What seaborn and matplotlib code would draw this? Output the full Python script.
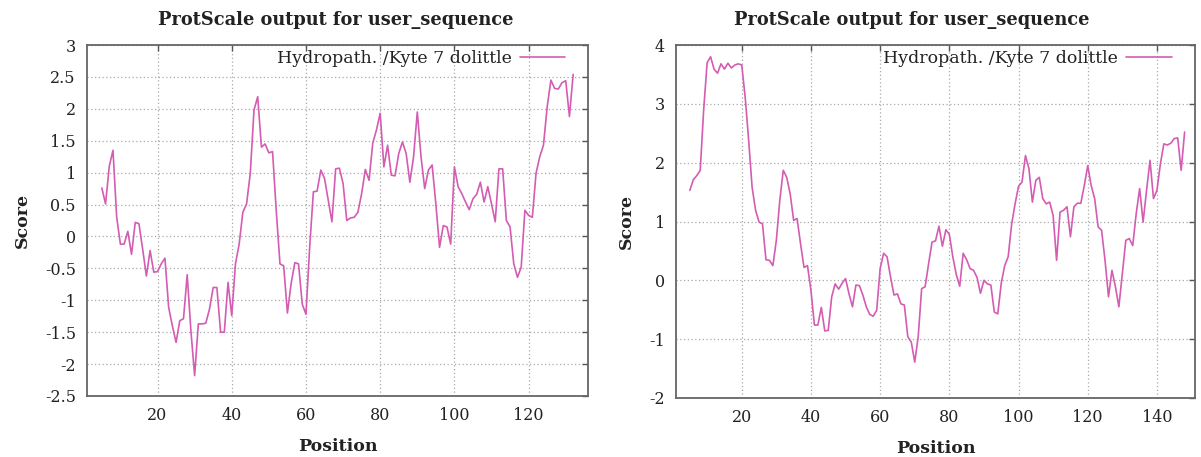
import pandas as pd
import seaborn as sns
import matplotlib.pyplot as plt
from matplotlib.ticker import FormatStrFormatter

# Kyte & Doolittle hydropathy profiles (window 9)
left_start = 5
left_scores = [
    0.76, 0.51, 1.10, 1.35, 0.30, -0.12, -0.12, 0.08, -0.28, 0.22,
    0.20, -0.20, -0.62, -0.22, -0.56, -0.55, -0.43, -0.34, -1.11, -1.40,
    -1.66, -1.32, -1.29, -0.60, -1.48, -2.18, -1.37, -1.37, -1.36, -1.14,
    -0.80, -0.80, -1.50, -1.50, -0.72, -1.24, -0.43, -0.12, 0.38, 0.51,
    0.99, 1.98, 2.19, 1.40, 1.45, 1.31, 1.33, 0.40, -0.43, -0.46,
    -1.20, -0.74, -0.41, -0.43, -1.06, -1.22, -0.17, 0.70, 0.71, 1.04,
    0.91, 0.57, 0.23, 1.06, 1.07, 0.83, 0.25, 0.29, 0.30, 0.38,
    0.67, 1.05, 0.88, 1.46, 1.67, 1.93, 1.09, 1.43, 0.96, 0.95,
    1.30, 1.48, 1.30, 0.85, 1.25, 1.95, 1.25, 0.75, 1.04, 1.12,
    0.51, -0.17, 0.17, 0.15, -0.12, 1.09, 0.78, 0.67, 0.54, 0.42,
    0.59, 0.66, 0.85, 0.54, 0.78, 0.51, 0.23, 1.06, 1.06, 0.25,
    0.15, -0.43, -0.64, -0.48, 0.41, 0.33, 0.30, 0.99, 1.25, 1.43,
    2.03, 2.45, 2.32, 2.31, 2.41, 2.44, 1.88, 2.54,
]

right_start = 5
right_scores = [
    1.53, 1.71, 1.78, 1.87, 2.90, 3.70, 3.80, 3.59, 3.52, 3.68,
    3.59, 3.69, 3.61, 3.66, 3.68, 3.66, 3.11, 2.38, 1.58, 1.19,
    0.99, 0.96, 0.35, 0.34, 0.25, 0.68, 1.36, 1.87, 1.75, 1.47,
    1.02, 1.05, 0.62, 0.22, 0.25, -0.17, -0.76, -0.76, -0.46, -0.86,
    -0.85, -0.28, -0.06, -0.15, -0.05, 0.03, -0.23, -0.45, -0.08, -0.09,
    -0.25, -0.45, -0.58, -0.61, -0.51, 0.20, 0.46, 0.40, 0.06, -0.25,
    -0.23, -0.40, -0.42, -0.96, -1.05, -1.39, -0.96, -0.14, -0.11, 0.28,
    0.65, 0.67, 0.92, 0.58, 0.86, 0.78, 0.40, 0.10, -0.10, 0.46,
    0.35, 0.20, 0.17, 0.05, -0.22, 0.00, -0.06, -0.08, -0.54, -0.57,
    -0.05, 0.25, 0.40, 0.95, 1.30, 1.60, 1.67, 2.12, 1.90, 1.33,
    1.70, 1.75, 1.39, 1.30, 1.33, 1.10, 0.34, 1.16, 1.19, 1.25,
    0.74, 1.25, 1.31, 1.31, 1.61, 1.95, 1.61, 1.39, 0.91, 0.85,
    0.34, -0.28, 0.17, -0.11, -0.45, 0.11, 0.68, 0.71, 0.59, 1.13,
    1.56, 0.99, 1.53, 2.04, 1.39, 1.53, 1.98, 2.32, 2.30, 2.33,
    2.41, 2.42, 1.87, 2.52,
]

left_yticks = [-2.5, -2, -1.5, -1, -0.5, 0, 0.5, 1, 1.5, 2, 2.5, 3]
right_yticks = [-2, -1, 0, 1, 2, 3, 4]
left_xticks = [20, 40, 60, 80, 100, 120]
right_xticks = [20, 40, 60, 80, 100, 120, 140]

title_text = "ProtScale output for user_sequence"
legend_text = "Hydropath. /Kyte 7 dolittle"
line_color = "#d45cb2"

sns.set_theme(style="white")
plt.rcParams['font.family'] = ['DejaVu Serif']
plt.rcParams['axes.unicode_minus'] = False


def draw_panel(ax, start, scores, xlim, ylim, xticks, yticks):
    df = pd.DataFrame({
        "Position": list(range(start, start + len(scores))),
        "Score": scores,
    })
    sns.lineplot(data=df, x="Position", y="Score", ax=ax, color=line_color,
                 linewidth=1.2, label=legend_text)
    ax.set_xlim(*xlim)
    ax.set_ylim(*ylim)
    ax.set_xticks(xticks)
    ax.set_yticks(yticks)
    ax.yaxis.set_major_formatter(FormatStrFormatter('%g'))
    ax.grid(True, linestyle=(0, (1, 2)), color='#a8a8a8', linewidth=0.9)
    ax.tick_params(direction='in', length=4, width=1, color='#555555',
                   top=True, right=True, labelsize=11.5, labelcolor='#222222', pad=8)
    for sp in ax.spines.values():
        sp.set_color('#666666')
        sp.set_linewidth(1.3)
    ax.set_xlabel("Position", fontsize=12.5, fontweight='bold', color='#222222', labelpad=10)
    ax.set_ylabel("Score", fontsize=12.5, fontweight='bold', color='#222222', labelpad=10)
    leg = ax.legend(loc='upper right', frameon=False, markerfirst=False,
                    fontsize=12.5, handlelength=2.6, borderaxespad=0.1,
                    handletextpad=0.5, borderpad=0.2)
    leg.set_bbox_to_anchor((0.965, 1.0))
    for t in leg.get_texts():
        t.set_color('#222222')


fig = plt.figure(figsize=(12.01, 4.57), dpi=100)
ax1 = fig.add_axes([87 / 1201, 1 - 396 / 457, 501 / 1201, 351 / 457])
ax2 = fig.add_axes([676 / 1201, 1 - 398 / 457, 519 / 1201, 353 / 457])

draw_panel(ax1, left_start, left_scores, (1, 136), (-2.5, 3), left_xticks, left_yticks)
draw_panel(ax2, right_start, right_scores, (1, 151), (-2, 4), right_xticks, right_yticks)

fig.text(336 / 1201, 1 - 20 / 457, title_text, ha='center', va='center',
         fontsize=12.8, fontweight='bold', color='#222222')
fig.text(912 / 1201, 1 - 20 / 457, title_text, ha='center', va='center',
         fontsize=12.8, fontweight='bold', color='#222222')

fig.savefig("out.png", dpi=100)
